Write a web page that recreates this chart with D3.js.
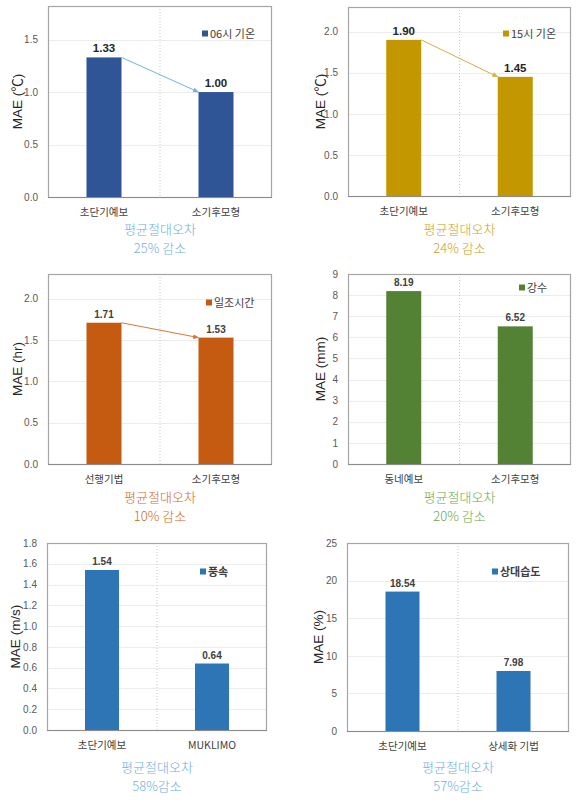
<!DOCTYPE html>
<html><head><meta charset="utf-8">
<script src="https://cdn.jsdelivr.net/npm/d3@7"></script>
<style>
body{margin:0;background:#fff;}
svg{display:block;}
</style></head>
<body><svg id="c" width="585" height="811"></svg>
<script>
// ---- data ----
const cats1 = ["초단기예보", "소기후모형"];
const vals1 = [1.33, 1.00];
const legend1 = "06시 기온";
const ticks1 = [0.0, 0.5, 1.0, 1.5];
const note1 = ["평균절대오차", "25% 감소"];

const cats2 = ["초단기예보", "소기후모형"];
const vals2 = [1.90, 1.45];
const legend2 = "15시 기온";
const ticks2 = [0.0, 0.5, 1.0, 1.5, 2.0];
const note2 = ["평균절대오차", "24% 감소"];

const cats3 = ["선행기법", "소기후모형"];
const vals3 = [1.71, 1.53];
const legend3 = "일조시간";
const ticks3 = [0.0, 0.5, 1.0, 1.5, 2.0];
const note3 = ["평균절대오차", "10% 감소"];

const cats4 = ["동네예보", "소기후모형"];
const vals4 = [8.19, 6.52];
const legend4 = "강수";
const ticks4 = [0, 1, 2, 3, 4, 5, 6, 7, 8, 9];
const note4 = ["평균절대오차", "20% 감소"];

const cats5 = ["초단기예보", "MUKLIMO"];
const vals5 = [1.54, 0.64];
const legend5 = "풍속";
const ticks5 = [0.0, 0.2, 0.4, 0.6, 0.8, 1.0, 1.2, 1.4, 1.6, 1.8];
const note5 = ["평균절대오차", "58%감소"];

const cats6 = ["초단기예보", "상세화 기법"];
const vals6 = [18.54, 7.98];
const legend6 = "상대습도";
const ticks6 = [0, 5, 10, 15, 20, 25];
const note6 = ["평균절대오차", "57%감소"];

// ---- layout ----
const svg = d3.select("#c");
const LAT = "'Liberation Sans', Arial, 'Noto Sans CJK KR', sans-serif";
const KR = "'Noto Sans CJK KR', 'Liberation Sans', sans-serif";

function panel(o) {
  const g = svg.append("g");
  const x = d3.scaleBand().domain(o.cats).range([o.l, o.r]).paddingInner(0.0).paddingOuter(0.0);
  const y = d3.scaleLinear().domain([0, o.max]).range([o.b, o.t]);
  const bw = o.bw;

  // gridlines
  g.selectAll(".grid").data(o.ticks.filter(t => t > 0)).enter().append("line")
    .attr("x1", o.l).attr("x2", o.r)
    .attr("y1", d => Math.round(y(d)) + 0.5).attr("y2", d => Math.round(y(d)) + 0.5)
    .attr("stroke", "#ececec").attr("stroke-width", 1);

  // divider
  const mid = (o.l + o.r) / 2;
  g.append("line").attr("x1", mid).attr("x2", mid).attr("y1", o.t).attr("y2", o.b)
    .attr("stroke", "#c8c8c8").attr("stroke-dasharray", "1,2");

  // frame
  g.append("rect").attr("x", o.l + 0.5).attr("y", o.t + 0.5)
    .attr("width", o.r - o.l - 1).attr("height", o.b - o.t)
    .attr("fill", "none").attr("stroke", "#a6a6a6").attr("stroke-width", 1.2);

  // bars
  const cx = d => x(d) + x.bandwidth() / 2;
  g.selectAll(".bar").data(o.cats).enter().append("rect")
    .attr("x", d => cx(d) - bw / 2).attr("width", bw)
    .attr("y", (d, i) => y(o.vals[i])).attr("height", (d, i) => o.b - y(o.vals[i]))
    .attr("fill", o.color);

  // bottom axis line
  g.append("line").attr("x1", o.l).attr("x2", o.r).attr("y1", o.b + 0.5).attr("y2", o.b + 0.5)
    .attr("stroke", "#8c8c8c").attr("stroke-width", 1.2);

  // y axis ticks
  const ax = d3.axisLeft(y).tickValues(o.ticks).tickSize(0).tickPadding(10).tickFormat(o.fmt);
  const ag = g.append("g").attr("transform", `translate(${o.l},0)`).call(ax);
  ag.select(".domain").remove();
  ag.selectAll("text").attr("font-family", LAT).attr("font-size", 10).attr("fill", "#595959");

  // value labels
  g.selectAll(".vl").data(o.cats).enter().append("text")
    .attr("x", d => cx(d)).attr("y", (d, i) => y(o.vals[i]) - 5)
    .attr("text-anchor", "middle").attr("font-family", LAT)
    .attr("font-size", o.vfs).attr("font-weight", "bold").attr("fill", o.vcol)
    .text((d, i) => o.vals[i].toFixed(2));

  // arrow
  if (o.arrow) {
    const id = "ah" + o.id;
    svg.append("defs").append("marker").attr("id", id).attr("viewBox", "0 0 10 10")
      .attr("refX", 9).attr("refY", 5).attr("markerWidth", 6).attr("markerHeight", 6)
      .attr("orient", "auto").append("path").attr("d", "M0,1L10,5L0,9z").attr("fill", o.arrow);
    g.append("line")
      .attr("x1", cx(o.cats[0]) + bw / 2).attr("y1", y(o.vals[0]))
      .attr("x2", cx(o.cats[1]) - bw / 2).attr("y2", y(o.vals[1]))
      .attr("stroke", o.arrow).attr("stroke-width", 1).attr("marker-end", `url(#${id})`);
  }

  // category labels
  g.selectAll(".cl").data(o.cats).enter().append("text")
    .attr("x", d => cx(d)).attr("y", o.b + 19)
    .attr("text-anchor", "middle").attr("font-family", KR)
    .attr("font-size", 10.5).attr("fill", "#404040")
    .text(d => d);

  // y title
  g.append("text").attr("transform", `translate(${o.ytx},${(o.t + o.b) / 2}) rotate(-90)`)
    .attr("text-anchor", "middle").attr("font-family", LAT).attr("font-size", 13.5)
    .attr("fill", "#262626").text(o.ytitle);

  // legend
  g.append("rect").attr("x", o.lx).attr("y", o.ly - 3.5).attr("width", 6).attr("height", 6).attr("fill", o.color);
  g.append("text").attr("x", o.lx + 8).attr("y", o.ly + 4)
    .attr("font-family", KR).attr("font-size", 11).attr("font-weight", o.lbold ? "bold" : "normal")
    .attr("fill", "#404040").text(o.legend);

  // note
  g.selectAll(".nt").data(o.note).enter().append("text")
    .attr("x", mid).attr("y", (d, i) => o.ny + i * 19)
    .attr("text-anchor", "middle").attr("font-family", KR).attr("font-size", 13)
    .attr("font-weight", 300).attr("fill", o.ncol).text(d => d);
}

const f1 = d3.format(".1f"), f0 = d3.format("d");

panel({id:1, cats:cats1, vals:vals1, ticks:ticks1, legend:legend1, note:note1, max:1.82,
  l:48, r:272, t:6, b:197, bw:35, color:"#2f5597", vcol:"#262626", vfs:11.5, fmt:f1,
  arrow:"#6fb3e0", ytitle:"MAE (℃)", ytx:22, lx:202, ly:34, ny:234, ncol:"#71aedd"});

panel({id:2, cats:cats2, vals:vals2, ticks:ticks2, legend:legend2, note:note2, max:2.3,
  l:348, r:571, t:7, b:196, bw:35, color:"#c39700", vcol:"#262626", vfs:11.5, fmt:f1,
  arrow:"#d4b044", ytitle:"MAE (℃)", ytx:325, lx:503, ly:34, ny:234, ncol:"#c9a227"});

panel({id:3, cats:cats3, vals:vals3, ticks:ticks3, legend:legend3, note:note3, max:2.3,
  l:48, r:272, t:274, b:464, bw:35, color:"#c55a11", vcol:"#404040", vfs:10, fmt:f1,
  arrow:"#d77a3c", ytitle:"MAE (hr)", ytx:22, lx:206, ly:303, ny:502, ncol:"#d2691e"});

panel({id:4, cats:cats4, vals:vals4, ticks:ticks4, legend:legend4, note:note4, max:9,
  l:348, r:571, t:274, b:464, bw:35, color:"#548235", vcol:"#404040", vfs:10, fmt:f0,
  arrow:null, ytitle:"MAE (mm)", ytx:325, lx:519, ly:288, ny:502, ncol:"#6aa84f"});

panel({id:5, cats:cats5, vals:vals5, ticks:ticks5, legend:legend5, note:note5, max:1.8,
  l:47, r:267, t:543, b:730, bw:34, color:"#2e75b6", vcol:"#404040", vfs:10, fmt:f1,
  arrow:null, ytitle:"MAE (m/s)", ytx:20, lx:200, ly:572, ny:772, ncol:"#71aedd", lbold:true});

panel({id:6, cats:cats6, vals:vals6, ticks:ticks6, legend:legend6, note:note6, max:25,
  l:347, r:569, t:543, b:731, bw:34, color:"#2e75b6", vcol:"#404040", vfs:10, fmt:f0,
  arrow:null, ytitle:"MAE (%)", ytx:323, lx:492, ly:572, ny:772, ncol:"#71aedd", lbold:true});
</script></body></html>
